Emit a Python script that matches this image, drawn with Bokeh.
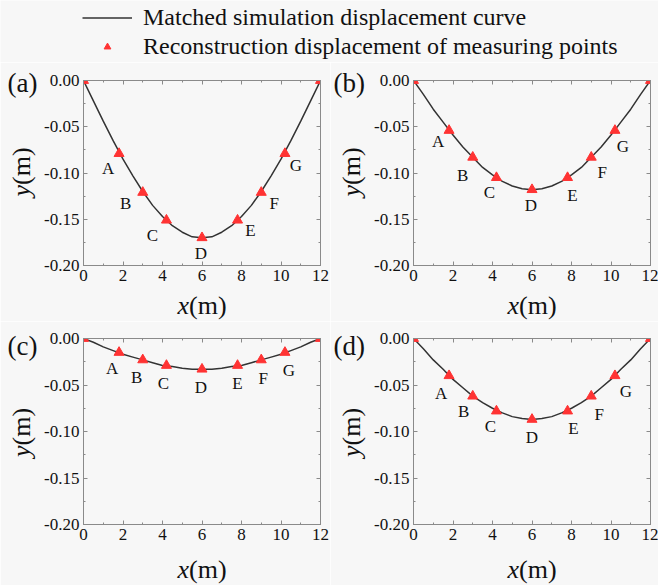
import math
from bokeh.plotting import figure
from bokeh.layouts import column, row
from bokeh.models import (Range1d, LinearAxis, SingleIntervalTicker, NumeralTickFormatter,
                          Legend, LegendItem, ColumnDataSource, CustomJSTickFormatter)
from bokeh.core.properties import value
from bokeh.embed import file_html
from bokeh.resources import INLINE

# ---------------- data ----------------
curve_x = [0, 0.5, 1, 1.5, 2, 2.5, 3, 3.5, 4, 4.5, 5, 5.5, 6,
           6.5, 7, 7.5, 8, 8.5, 9, 9.5, 10, 10.5, 11, 11.5, 12]
curve_a = [0, -0.022, -0.044, -0.065, -0.085, -0.103, -0.120, -0.135, -0.147, -0.157, -0.164, -0.169, -0.170,
           -0.169, -0.164, -0.157, -0.147, -0.135, -0.120, -0.103, -0.085, -0.065, -0.044, -0.022, 0]
curve_b = [0, -0.015, -0.031, -0.045, -0.059, -0.072, -0.083, -0.094, -0.102, -0.109, -0.114, -0.117, -0.118,
           -0.117, -0.114, -0.109, -0.102, -0.094, -0.083, -0.072, -0.059, -0.045, -0.031, -0.015, 0]
curve_c = [0, -0.004, -0.009, -0.013, -0.017, -0.020, -0.023, -0.026, -0.029, -0.030, -0.032, -0.033, -0.033,
           -0.033, -0.032, -0.030, -0.029, -0.026, -0.023, -0.020, -0.017, -0.013, -0.009, -0.004, 0]
curve_d = [0, -0.011, -0.023, -0.033, -0.044, -0.053, -0.062, -0.069, -0.075, -0.080, -0.084, -0.086, -0.087,
           -0.086, -0.084, -0.080, -0.075, -0.069, -0.062, -0.053, -0.044, -0.033, -0.023, -0.011, 0]

pts_x = [0, 1.8, 3, 4.2, 6, 7.8, 9, 10.2, 12]
pts_a = [0, -0.079, -0.121, -0.151, -0.170, -0.151, -0.121, -0.079, 0]
pts_b = [0, -0.054, -0.083, -0.105, -0.118, -0.105, -0.083, -0.054, 0]
pts_c = [0, -0.015, -0.023, -0.029, -0.033, -0.029, -0.023, -0.015, 0]
pts_d = [0, -0.040, -0.062, -0.078, -0.087, -0.078, -0.062, -0.040, 0]

point_names = ["A", "B", "C", "D", "E", "F", "G"]
panel_names = ["(a)", "(b)", "(c)", "(d)"]
axis_texts = ["x", "(m)", "y", "(m)"]
legend_labels = ["Matched simulation displacement curve",
                 "Reconstruction displacement of measuring points"]

# ---------------- styles ----------------
FONT = "Liberation Serif"
BG = "#f7f7f7"
AXC = "#8a8a8a"
LINE_C = "#333333"
TRI_C = "#ff3333"

offsets = {
    "a": ([-11, -17, -14, -1, 13, 13, 11], [15, 11, 15, 16, 10, 11, 12]),
    "b": ([-11, -10, -7, -1, 5, 11, 8], [11, 18, 15, 16, 18, 15, 16]),
    "c": ([-7, -6, -3, -1, 0, 2, 4], [16, 18, 18, 18, 18, 19, 18]),
    "d": ([-8, -9, -6, 0, 6, 8, 11], [18, 15, 15, 18, 17, 18, 16]),
}


def style_axis(ax, show_labels=True):
    ax.axis_line_color = AXC
    ax.major_tick_line_color = AXC
    ax.minor_tick_line_color = AXC
    ax.major_tick_in = 4
    ax.major_tick_out = 0
    ax.minor_tick_in = 2
    ax.minor_tick_out = 0
    ax.major_label_text_font = FONT
    ax.major_label_text_font_size = "17px"
    ax.major_label_text_color = "#111111"
    ax.major_label_standoff = 4
    if not show_labels:
        ax.formatter = CustomJSTickFormatter(code="return ''")


def make_panel(key, curve_y, pts_y, width, height, bl, br, bt, bb, pos):
    letter_dx, letter_dy, xlab_dy, ylab_dx, ylab_dy = pos
    p = figure(width=width, height=height, output_backend="svg", toolbar_location=None,
               x_range=Range1d(0, 12), y_range=Range1d(-0.2, 0),
               x_axis_location=None, y_axis_location=None,
               min_border_left=bl, min_border_right=br, min_border_top=bt, min_border_bottom=bb,
               background_fill_color=BG, border_fill_color=BG, outline_line_color=AXC)
    p.grid.visible = False
    bottom = LinearAxis(ticker=SingleIntervalTicker(interval=2, num_minor_ticks=2))
    left = LinearAxis(ticker=SingleIntervalTicker(interval=0.05, num_minor_ticks=2),
                      formatter=NumeralTickFormatter(format="0.00"))
    top = LinearAxis(ticker=SingleIntervalTicker(interval=2, num_minor_ticks=2))
    right = LinearAxis(ticker=SingleIntervalTicker(interval=0.05, num_minor_ticks=2))
    style_axis(bottom)
    style_axis(left)
    style_axis(top, False)
    style_axis(right, False)
    p.add_layout(bottom, "below")
    p.add_layout(left, "left")
    p.add_layout(top, "above")
    p.add_layout(right, "right")

    p.line(curve_x, curve_y, line_color=LINE_C, line_width=1.5)
    p.scatter(pts_x, pts_y, marker="triangle", size=10, fill_color=TRI_C, line_color=TRI_C)

    dx, dy = offsets[key]
    src = ColumnDataSource(dict(x=pts_x[1:-1], y=pts_y[1:-1], t=point_names, dx=dx, dy=dy))
    p.text(x="x", y="y", text="t", x_offset="dx", y_offset="dy", source=src,
           text_font=value(FONT), text_font_size="17px", text_align="center",
           text_baseline="middle", text_color="#111111")

    # axis titles and panel letter, anchored at frame edges, drawn above the frame clip
    idx = "abcd".index(key)
    lab = ColumnDataSource(dict(
        x=[6, 6, 0, 0, 0],
        y=[-0.2, -0.2, -0.1, -0.1, 0],
        t=axis_texts + [panel_names[idx]],
        dx=[-13, -13, ylab_dx, ylab_dx, letter_dx],
        dy=[xlab_dy, xlab_dy, ylab_dy, ylab_dy, letter_dy],
        ang=[0, 0, math.pi / 2, math.pi / 2, 0],
        al=["right", "left", "right", "left", "left"],
        st=["italic", "normal", "italic", "normal", "normal"],
        sz=["26px", "26px", "26px", "26px", "27px"],
    ))
    p.text(x="x", y="y", text="t", x_offset="dx", y_offset="dy", angle="ang", source=lab,
           text_align="al", text_font_style="st", text_font_size="sz",
           text_font=value(FONT), text_baseline="middle", text_color="#111111", level="overlay")
    return p


# (letter_dx, letter_dy, xlabel_dy, ylabel_dx, ylabel_dy)
pa = make_panel("a", curve_a, pts_a, 330, 259, 83, 10, 18, 56, (-76, 2, 40, -62, 12))
pb = make_panel("b", curve_b, pts_b, 328, 259, 83, 8, 18, 56, (-80, 2, 40, -62, 12))
pc = make_panel("c", curve_c, pts_c, 330, 264, 83, 10, 17, 61, (-76, 7, 45, -62, 14))
pd = make_panel("d", curve_d, pts_d, 328, 264, 83, 8, 17, 61, (-80, 7, 45, -62, 14))

# legend figure
nan = float("nan")
top = figure(width=658, height=62, output_backend="svg", toolbar_location=None,
             x_range=Range1d(0, 1), y_range=Range1d(0, 1),
             min_border=0, background_fill_color=BG, border_fill_color=BG, outline_line_color=None)
top.axis.visible = False
top.grid.visible = False
r_line = top.line(x=[nan], y=[nan], line_color=LINE_C, line_width=1.5)
r_tri = top.scatter(x=[nan], y=[nan], marker="triangle", size=10, fill_color=TRI_C, line_color=TRI_C)
leg = Legend(items=[LegendItem(label=legend_labels[0], renderers=[r_line]),
                    LegendItem(label=legend_labels[1], renderers=[r_tri])],
             location=(82, 2), orientation="vertical",
             glyph_width=50, glyph_height=17, label_height=26, label_standoff=11, spacing=2,
             padding=0, margin=0, border_line_color=None, background_fill_alpha=0,
             label_text_font=FONT, label_text_font_size="24px", label_text_color="#111111")
top.add_layout(leg, "center")

layout = column(top, row(pa, pb), row(pc, pd))
open("out.html", "w").write(file_html(layout, INLINE))
